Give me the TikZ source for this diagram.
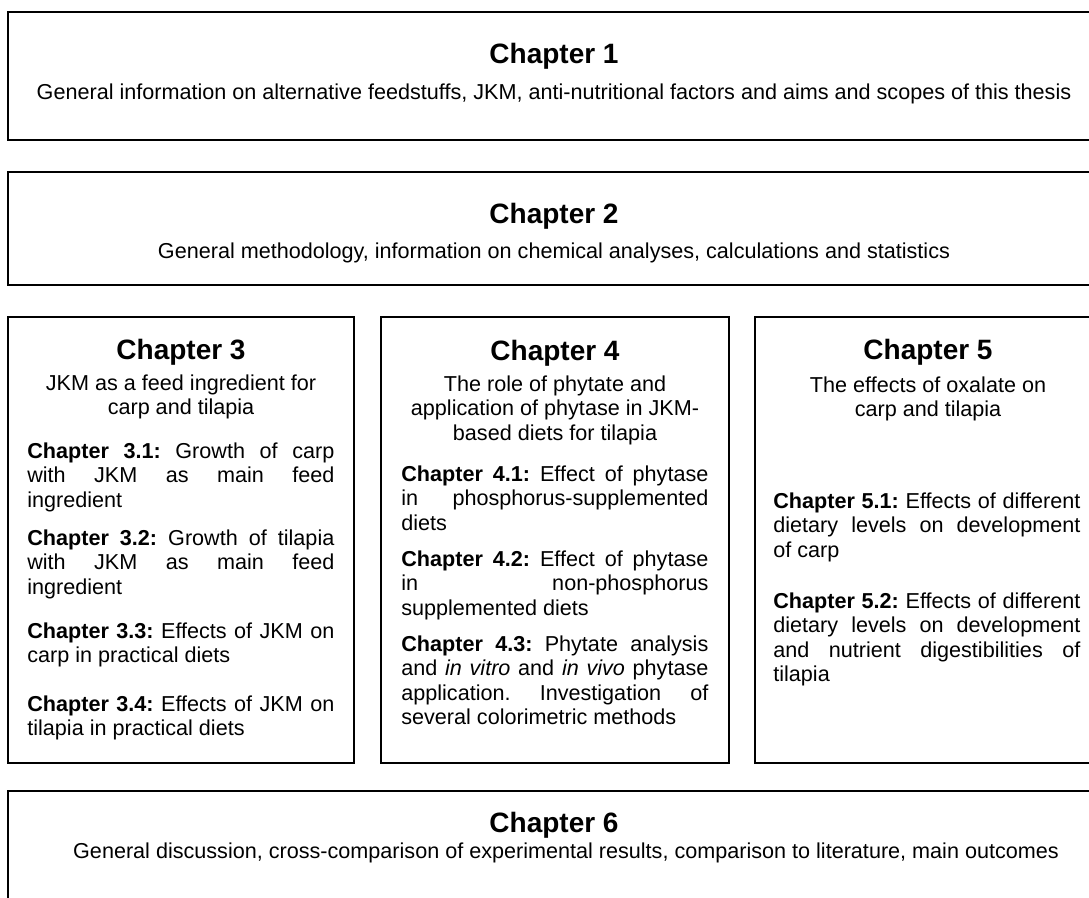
\documentclass[tikz,border=0pt]{standalone}
\usepackage{fontspec}
\setmainfont{Liberation Sans}
\usepackage{tikz}
\usetikzlibrary{positioning}
\frenchspacing

\begin{document}
\begin{tikzpicture}[x=1pt, y=-1pt, line width=2.7pt]
		\tikzstyle{box} = [draw=black, rectangle, inner sep=0pt]
		\tikzstyle{head} = [inner sep=0pt, font=\bfseries\fontsize{28}{31}\selectfont]
		\tikzstyle{line} = [inner sep=0pt, font=\fontsize{21.6}{24.5}\selectfont]
		\tikzstyle{sub} = [inner sep=0pt, align=center, font=\fontsize{21.6}{24.5}\selectfont]
		\tikzstyle{part} = [inner sep=0pt, anchor=north west, text width=307pt, align=justify, font=\fontsize{21.6}{24.5}\selectfont]
		
		\useasboundingbox (0,0) rectangle (1089,897);
		
		% frames
		\node[box, minimum width=1092pt, minimum height=128pt] 	at (554, 76)		(ch1) 	{};
		\node[box, minimum width=1092pt, minimum height=113pt] 	at (554, 228.5)		(ch2) 	{};
		\node[box, minimum width=346pt, minimum height=446pt] 	at (181, 540)		(ch3) 	{};
		\node[box, minimum width=348pt, minimum height=446pt] 	at (555, 540)		(ch4) 	{};
		\node[box, minimum width=346pt, minimum height=446pt] 	at (928, 540)		(ch5) 	{};
		\node[box, minimum width=1092pt, minimum height=140pt] 	at (554, 861)		(ch6) 	{};
		
		% chapter 1 and 2
		\node[head] 	at (554, 56)		(t1) 	{Chapter 1};
		\node[line] 	at (554, 94)		(d1) 	{General information on alternative feedstuffs, JKM, anti-nutritional factors and aims and scopes of this thesis};
		\node[head] 	at (554, 216)		(t2) 	{Chapter 2};
		\node[line] 	at (554, 253)		(d2) 	{General methodology, information on chemical analyses, calculations and statistics};
		
		% chapter 3
		\node[head] 	at (181, 352)		(t3) 	{Chapter 3};
		\node[sub] 	at (181, 397)		(d3) 	{JKM as a feed ingredient for\\carp and tilapia};
		\node[part] 	at (26, 441)		(c31) 	{\textbf{Chapter 3.1:} Growth of carp\linebreak with JKM as main feed\linebreak ingredient};
		\node[part] 	at (26, 528)		(c32) 	{\textbf{Chapter 3.2:} Growth of tilapia\linebreak with JKM as main feed\linebreak ingredient};
		\node[part] 	at (26, 621)		(c33) 	{\textbf{Chapter 3.3:} Effects of JKM on\linebreak carp in practical diets};
		\node[part] 	at (26, 694)		(c34) 	{\textbf{Chapter 3.4:} Effects of JKM on\linebreak tilapia in practical diets};
		
		% chapter 4
		\node[head] 	at (555, 353)		(t4) 	{Chapter 4};
		\node[sub] 	at (555, 410)		(d4) 	{The role of phytate and\\application of phytase in JKM-\\based diets for tilapia};
		\node[part] 	at (400, 464)		(c41) 	{\textbf{Chapter 4.1:} Effect of phytase\linebreak in phosphorus-supplemented\linebreak diets};
		\node[part] 	at (400, 549)		(c42) 	{\textbf{Chapter 4.2:} Effect of phytase\linebreak in non-phosphorus\linebreak supplemented diets};
		\node[part] 	at (400, 634)		(c43) 	{\textbf{Chapter 4.3:} Phytate analysis\linebreak and \textit{in vitro} and \textit{in vivo} phytase\linebreak application. Investigation of\linebreak several colorimetric methods};
		
		% chapter 5
		\node[head] 	at (928, 352)		(t5) 	{Chapter 5};
		\node[sub] 	at (928, 399)		(d5) 	{The effects of oxalate on\\carp and tilapia};
		\node[part] 	at (772, 491)		(c51) 	{\textbf{Chapter 5.1:} Effects of different\linebreak dietary levels on development\linebreak of carp};
		\node[part] 	at (772, 591)		(c52) 	{\textbf{Chapter 5.2:} Effects of different\linebreak dietary levels on development\linebreak and nutrient digestibilities of\linebreak tilapia};
		
		% chapter 6
		\node[head] 	at (554, 825)		(t6) 	{Chapter 6};
		\node[line] 	at (566, 853)		(d6) 	{General discussion, cross-comparison of experimental results, comparison to literature, main outcomes};
	\end{tikzpicture}
\end{document}
